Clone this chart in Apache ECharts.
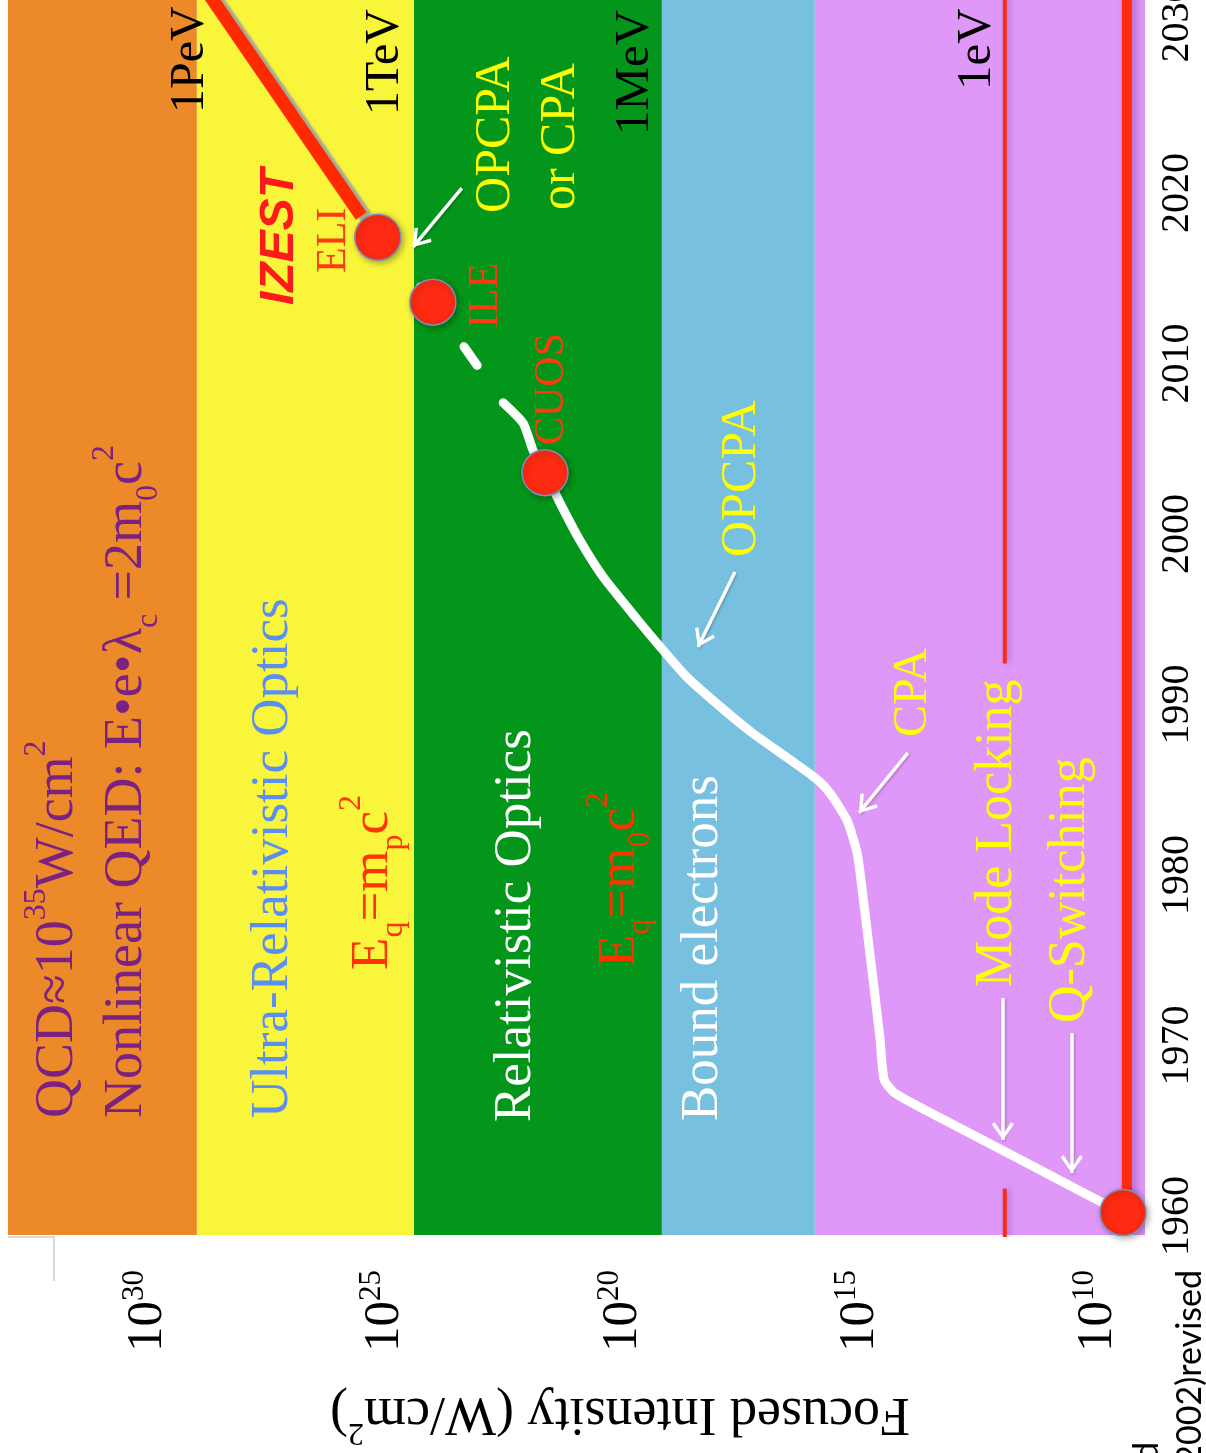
<!DOCTYPE html>
<html>
<head>
<meta charset="utf-8">
<script src="https://cdn.jsdelivr.net/npm/echarts@6/dist/echarts.min.js"></script>
<style>
  html, body { margin: 0; padding: 0; background: #ffffff; }
  #chart { width: 1206px; height: 1453px; }
</style>
</head>
<body>
<div id="chart"></div>
<script>
// Peak focused laser intensity (log10 of W/cm^2) versus year.
// The figure is laid out sideways: intensity runs along x, years along y.

const yearTicks = [1960, 1970, 1980, 1990, 2000, 2010, 2020, 2030];
const intensityTicks = [10, 15, 20, 25, 30];

// Physical regimes, as log10 intensity edges (low to high)
const bandEdges = [8.968, 15.92, 19.14, 24.36, 28.93, 32.905];
const bandNames = ['Bound electrons (low)', 'Bound electrons', 'Relativistic Optics', 'Ultra-Relativistic Optics', 'Nonlinear QED'];
const bandColors = ['#df98f8', '#78c0df', '#03961a', '#f9f53b', '#ec8a29'];

// Growth of focused intensity (solid part)
const curveYears = [1960.2, 1960.65, 1963.87, 1965.45, 1967.2, 1968.0, 1970.5, 1975.4, 1979.3, 1981.3,
                    1983.2, 1984.8, 1985.6, 1986.9, 1988.3, 1989.9, 1991.6, 1993.4, 1995.0, 1997.5,
                    1999.6, 2001.8, 2003.6, 2004.9, 2006.5, 2007.7];
const curveLogI  = [9.43, 9.77, 11.98, 13.07, 14.23, 14.46, 14.55, 14.76, 14.93, 15.03,
                    15.24, 15.60, 15.87, 16.51, 17.22, 17.92, 18.61, 19.18, 19.66, 20.38,
                    20.86, 21.28, 21.60, 21.85, 22.06, 22.48];

// Dashed continuation through the large facilities
const dashYears = [2007.7, 2013.6, 2017.4];
const dashLogI  = [22.48, 23.96, 25.12];

// Milestones (first laser, CUOS, ILE, ELI)
const milestoneNames = ['Laser', 'CUOS', 'ILE', 'ELI'];
const milestoneYears = [1960.2, 2003.6, 2013.6, 2017.4];
const milestoneLogI  = [9.43, 21.60, 23.96, 25.12];

// IZEST projection
const izestYears = [2018.65, 2032.0];
const izestLogI  = [25.47, 28.76];

// Reference intensity levels
const levelHigh = 9.35;
const levelHighYears = [1960.2, 2032.0];
const levelLow = 11.92;
const levelLowUpperYears = [1992.4, 2032.0];
const levelLowLowerYears = [1958.0, 1961.6];

const X_MIN = 8.968, X_MAX = 32.905;
const Y_MIN = 1958.886, Y_MAX = 2031.32;

const pairs = (xs, ys) => xs.map((x, i) => [x, ys[i]]);

const serif = 'Liberation Serif';

const bandData = bandColors.map((c, i) => [
  { name: bandNames[i], xAxis: bandEdges[i], itemStyle: { color: c, opacity: 1 } },
  { xAxis: bandEdges[i + 1] }
]);

// open chevron arrow head, tip on top
const chevron = 'path://M50,0 L100,68 L88,78 L50,24 L12,78 L0,68 Z';

// Arrows: [from logI, from year] -> [to logI, to year]
const arrows = [
  [[23.35, 2020.29], [24.38, 2016.83]],
  [[17.60, 1997.77], [18.38, 1993.37]],
  [[13.96, 1987.16], [14.99, 1983.64]],
  [[11.96, 1972.79], [11.96, 1964.46]],
  [[10.51, 1970.73], [10.51, 1962.52]]
];

const chart = echarts.init(document.getElementById('chart'), null, { renderer: 'canvas' });

const option = {
  animation: false,
  backgroundColor: '#ffffff',
  grid: { left: 8, right: 61, top: 0, bottom: 218, containLabel: false, outerBoundsMode: 'none' },
  xAxis: {
    type: 'value',
    min: X_MIN, max: X_MAX,
    inverse: true,
    axisLine: { show: false },
    axisTick: { show: false },
    splitLine: { show: false },
    axisLabel: {
      customValues: intensityTicks,
      rotate: 90,
      margin: 35,
      color: '#000',
      fontFamily: serif,
      formatter: v => '{b|10}{e|' + v + '}',
      rich: {
        b: { fontSize: 51, fontFamily: serif, color: '#000', lineHeight: 54, verticalAlign: 'bottom' },
        e: { fontSize: 31, fontFamily: serif, color: '#000', lineHeight: 31, verticalAlign: 'top' }
      }
    }
  },
  yAxis: {
    type: 'value',
    position: 'right',
    min: Y_MIN, max: Y_MAX,
    axisLine: { show: false },
    axisTick: { show: false },
    splitLine: { show: false },
    axisLabel: {
      customValues: yearTicks,
      rotate: 90,
      margin: 12,
      fontSize: 40,
      fontFamily: serif,
      color: '#000',
      formatter: v => String(v)
    }
  },
  series: [
    {
      name: 'regimes', type: 'line', data: [], silent: true, z: 0,
      markArea: { silent: true, data: bandData }
    },
    {
      name: 'level high', type: 'line', data: levelHighYears.map(y => [levelHigh, y]),
      showSymbol: false, silent: true, z: 2,
      lineStyle: { color: '#ff2a10', width: 10, cap: 'butt',
                   shadowColor: 'rgba(90,20,120,0.35)', shadowBlur: 8, shadowOffsetX: 4 }
    },
    {
      name: 'level low a', type: 'line', data: levelLowUpperYears.map(y => [levelLow, y]),
      showSymbol: false, silent: true, z: 2,
      lineStyle: { color: '#ff2a10', width: 4, cap: 'butt',
                   shadowColor: 'rgba(90,20,120,0.3)', shadowBlur: 6, shadowOffsetX: 3 }
    },
    {
      name: 'level low b', type: 'line', data: levelLowLowerYears.map(y => [levelLow, y]),
      showSymbol: false, silent: true, z: 2,
      lineStyle: { color: '#ff2a10', width: 4, cap: 'butt',
                   shadowColor: 'rgba(90,20,120,0.3)', shadowBlur: 6, shadowOffsetX: 3 }
    },
    {
      name: 'intensity', type: 'line', data: pairs(curveLogI, curveYears),
      showSymbol: false, silent: true, z: 3,
      smooth: 0.2,
      lineStyle: { color: '#ffffff', width: 9, cap: 'round', join: 'round' }
    },
    {
      name: 'intensity projected', type: 'line', data: pairs(dashLogI, dashYears),
      showSymbol: false, silent: true, z: 3,
      lineStyle: { color: '#ffffff', width: 9, cap: 'round', type: [23, 51], dashOffset: 28.5 }
    },
    {
      name: 'IZEST', type: 'line', data: pairs(izestLogI, izestYears),
      showSymbol: false, silent: true, z: 4,
      lineStyle: { color: '#ff2a00', width: 13, cap: 'butt',
                   shadowColor: 'rgba(160,160,160,0.9)', shadowBlur: 2, shadowOffsetX: 5, shadowOffsetY: 1 }
    },
    {
      name: 'arrows', type: 'line', data: [], silent: true, z: 5,
      markLine: {
        silent: true,
        symbol: ['none', chevron],
        symbolSize: [22, 18],
        symbolOffset: [[0, 0], [0, 9]],
        label: { show: false },
        lineStyle: { color: '#ffffff', width: 3.5, type: 'solid', opacity: 1,
                     shadowColor: 'rgba(0,0,0,0.25)', shadowBlur: 3, shadowOffsetX: 1, shadowOffsetY: 1 },
        emphasis: { disabled: true },
        data: arrows.map(a => [{ coord: a[0] }, { coord: a[1] }])
      }
    },
    {
      name: 'milestones', type: 'scatter', data: pairs(milestoneLogI, milestoneYears),
      symbolSize: 46, silent: true, z: 6,
      itemStyle: { color: '#fe2a12', borderColor: '#7d8db5', borderWidth: 1.5, opacity: 1,
                   shadowColor: 'rgba(0,0,0,0.3)', shadowBlur: 6, shadowOffsetX: 2, shadowOffsetY: 2 }
    }
  ]
};

chart.setOption(option);

// Text annotations, anchored in data units (start of the upward-reading line, line centre)
const notes = [
  { t: 'QCD≈10{p|35}W/cm{p|2}', at: [31.85, 1965.75], c: '#7a2182', fs: 54 },
  { t: 'Nonlinear QED: E•e•λ{b|c} =2m{b|0}c{p|2}', at: [30.40, 1965.75], c: '#7a2182', fs: 54 },
  { t: 'Ultra-Relativistic Optics', at: [27.33, 1965.75], c: '#5b8ef3', fs: 53 },
  { t: 'E{b|q}=m{b|p}c{p|2}', at: [25.22, 1974.43], c: '#ff3300', fs: 53 },
  { t: 'Relativistic Optics', at: [22.21, 1965.51], c: '#ffffff', fs: 53 },
  { t: 'E{b|q}=m{b|0}c{p|2}', at: [20.02, 1974.60], c: '#ff3300', fs: 53 },
  { t: 'Bound electrons', at: [18.27, 1965.57], c: '#ffffff', fs: 53 },
  { t: '1PeV', at: [29.07, 2024.69], c: '#000000', fs: 48 },
  { t: '1TeV', at: [24.95, 2024.57], c: '#000000', fs: 48 },
  { t: '1MeV', at: [19.71, 2023.40], c: '#000000', fs: 49 },
  { t: '1eV', at: [12.51, 2026.04], c: '#000000', fs: 49 },
  { t: 'IZEST', at: [27.18, 2013.43], c: '#ff1a1a', fs: 48, family: 'Liberation Sans', weight: 'bold', style: 'italic' },
  { t: 'ELI', at: [26.04, 2015.31], c: '#ff3a10', fs: 42 },
  { t: 'ILE', at: [22.84, 2012.08], c: '#ff3a10', fs: 42 },
  { t: 'CUOS', at: [21.45, 2005.22], c: '#ff3a10', fs: 42 },
  { t: 'OPCPA', at: [22.63, 2018.83], c: '#ffff00', fs: 50 },
  { t: 'or CPA', at: [21.26, 2019.00], c: '#ffff00', fs: 50 },
  { t: 'OPCPA', at: [17.45, 1998.65], c: '#ffff00', fs: 50 },
  { t: 'CPA', at: [13.85, 1988.09], c: '#ffff00', fs: 48 },
  { t: 'Mode Locking', at: [12.08, 1973.43], c: '#ffff00', fs: 52 },
  { t: 'Q-Switching', at: [10.53, 1971.32], c: '#ffff00', fs: 52 }
];

function noteElement(n) {
  const pt = chart.convertToPixel({ gridIndex: 0 }, n.at);
  const fam = n.family || serif;
  const small = Math.round(n.fs * 0.6);
  return {
    type: 'text',
    x: pt[0], y: pt[1],
    rotation: Math.PI / 2,
    z: 100,
    silent: true,
    style: {
      text: n.t,
      fill: n.c,
      fontSize: n.fs,
      fontFamily: fam,
      fontWeight: n.weight || 'normal',
      fontStyle: n.style || 'normal',
      lineHeight: Math.round(n.fs * 1.4),
      align: 'left', textAlign: 'left',
      verticalAlign: 'middle', textVerticalAlign: 'middle',
      rich: {
        p: { fontSize: small, fontFamily: fam, fill: n.c, color: n.c, lineHeight: small, verticalAlign: 'top' },
        b: { fontSize: small, fontFamily: fam, fill: n.c, color: n.c, lineHeight: small, verticalAlign: 'bottom' }
      }
    }
  };
}

const graphics = notes.map(noteElement);

// axis title, printed upside down under the intensity scale
graphics.push({
  type: 'text', x: 620, y: 1413, rotation: Math.PI, z: 100, silent: true,
  style: {
    text: 'Focused Intensity (W/cm{p|2})',
    fill: '#000', fontSize: 54, fontFamily: serif, lineHeight: 70,
    align: 'center', textAlign: 'center', verticalAlign: 'middle', textVerticalAlign: 'middle',
    rich: { p: { fontSize: 32, fontFamily: serif, fill: '#000', color: '#000', lineHeight: 32, verticalAlign: 'top' } }
  }
});

// source line fragments in the lower right corner
graphics.push({
  type: 'text', x: 1190, y: 1270, rotation: Math.PI / 2, z: 100, silent: true,
  style: { text: '2002)revised', fill: '#000', fontSize: 34, fontFamily: 'Lato',
           align: 'right', textAlign: 'right', verticalAlign: 'middle', textVerticalAlign: 'middle' }
});
graphics.push({
  type: 'text', x: 1147, y: 1442, rotation: Math.PI / 2, z: 100, silent: true,
  style: { text: 'd', fill: '#000', fontSize: 34, fontFamily: 'Lato',
           align: 'right', textAlign: 'right', verticalAlign: 'middle', textVerticalAlign: 'middle' }
});

// thin grey corner mark under the plot
graphics.push({
  type: 'polyline', z: 100, silent: true,
  shape: { points: [[8, 1237], [54, 1237], [54, 1281]] },
  style: { stroke: '#cccccc', lineWidth: 1.5, fill: null }
});

chart.setOption({ graphic: graphics });
</script>
</body>
</html>
